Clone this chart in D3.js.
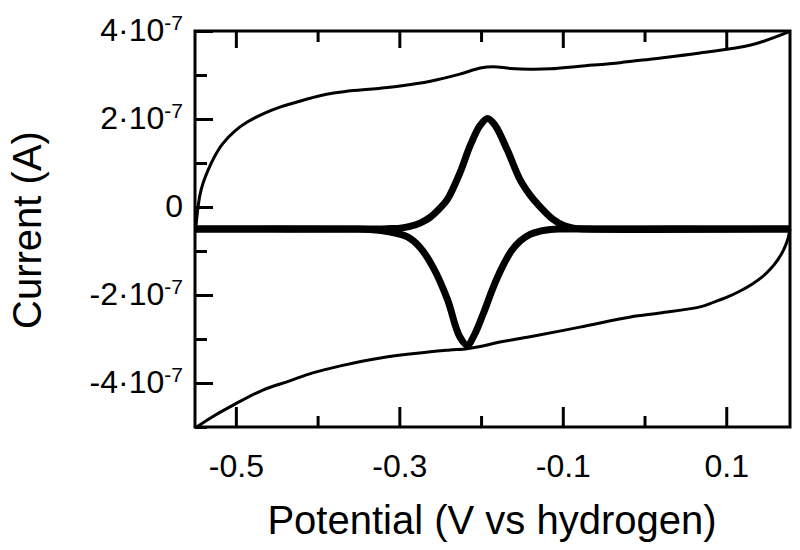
<!DOCTYPE html>
<html lang="en">

<head>
    <script src='https://d3js.org/d3.v7.min.js'></script>
    <style>
        body { margin: 0; background: #fff; }
        text { font-family: "Liberation Sans", Arial, Helvetica, sans-serif; fill: #000; }
    </style>
</head>

<body>
    <script>
        // current values are in units of 1e-7 A
        const potentialTicks = [-0.5, -0.4, -0.3, -0.2, -0.1, 0.0, 0.1]
        const potentialLabels = [-0.5, -0.3, -0.1, 0.1]
        const currentTicks = [-5, -4, -3, -2, -1, 0, 1, 2, 3, 4]
        const currentLabels = [-4, -2, 0, 2, 4]

        // background (capacitive) scan, thin line
        const bgForwardV = [-0.549, -0.547, -0.544, -0.540, -0.534, -0.526, -0.516, -0.501, -0.486, -0.464, -0.446, -0.421, -0.397, -0.360, -0.323, -0.299, -0.262, -0.226, -0.201, -0.185, -0.164, -0.140, -0.115, -0.079, -0.030, 0.007, 0.068, 0.130, 0.178]
        const bgForwardI = [-0.48, -0.11, 0.27, 0.55, 0.84, 1.15, 1.44, 1.73, 1.93, 2.14, 2.27, 2.41, 2.53, 2.64, 2.70, 2.75, 2.86, 3.02, 3.16, 3.19, 3.15, 3.13, 3.14, 3.20, 3.28, 3.36, 3.50, 3.68, 3.99]
        const bgReverseV = [0.178, 0.175, 0.170, 0.163, 0.154, 0.144, 0.132, 0.117, 0.101, 0.085, 0.068, 0.019, -0.017, -0.079, -0.140, -0.177, -0.201, -0.217, -0.238, -0.262, -0.323, -0.372, -0.406, -0.434, -0.467, -0.501, -0.528, -0.548]
        const bgReverseI = [-0.50, -0.75, -0.98, -1.20, -1.41, -1.59, -1.75, -1.91, -2.05, -2.16, -2.27, -2.41, -2.50, -2.73, -2.95, -3.07, -3.17, -3.22, -3.25, -3.29, -3.43, -3.61, -3.77, -3.95, -4.16, -4.48, -4.76, -5.00]

        // background-subtracted redox peaks, thick line
        const peakForwardV = [-0.550, -0.330, -0.311, -0.299, -0.287, -0.274, -0.262, -0.250, -0.241, -0.226, -0.213, -0.201, -0.192, -0.183, -0.168, -0.152, -0.140, -0.131, -0.112, -0.099, -0.087, -0.072, 0.178]
        const peakForwardI = [-0.50, -0.50, -0.49, -0.48, -0.44, -0.36, -0.23, -0.02, 0.18, 0.77, 1.41, 1.86, 2.01, 1.86, 1.30, 0.61, 0.27, 0.07, -0.28, -0.42, -0.48, -0.50, -0.50]
        const peakReverseV = [0.178, -0.100, -0.115, -0.128, -0.140, -0.152, -0.163, -0.175, -0.185, -0.197, -0.208, -0.217, -0.226, -0.231, -0.241, -0.259, -0.275, -0.290, -0.311, -0.336, -0.360, -0.550]
        const peakReverseI = [-0.50, -0.50, -0.51, -0.55, -0.62, -0.77, -1.00, -1.40, -1.82, -2.41, -2.90, -3.14, -2.95, -2.72, -2.11, -1.36, -0.91, -0.68, -0.57, -0.51, -0.50, -0.50]

        const svg = d3.select("body")
            .append("svg")
            .attr("width", 800)
            .attr("height", 550)

        var xScale = d3.scaleLinear()
            .domain([-0.55, 0.178])
            .range([195, 790])
        var yScale = d3.scaleLinear()
            .domain([-5, 4])
            .range([427, 31])

        const isMajorX = d => potentialLabels.some(v => Math.abs(v - d) < 1e-6)
        const isMajorY = d => currentLabels.includes(d)

        // bottom axis
        const xAxis = svg.append("g")
            .attr("transform", "translate(0,427)")
            .call(d3.axisBottom(xScale)
                .tickValues(potentialTicks)
                .tickSize(0)
                .tickPadding(27)
                .tickFormat(d => isMajorX(d) ? d.toFixed(1) : ""))
        xAxis.select(".domain").remove()
        xAxis.selectAll(".tick line")
            .attr("y2", d => isMajorX(d) ? -20 : -11)
            .attr("stroke", "#000")
            .attr("stroke-width", 3)
        xAxis.selectAll(".tick text")
            .style("font-size", "32px")
            .attr("fill", "#000")

        // top axis, ticks only
        const topAxis = svg.append("g")
            .attr("transform", "translate(0,31)")
            .call(d3.axisTop(xScale).tickValues(potentialTicks).tickSize(0).tickFormat(""))
        topAxis.select(".domain").remove()
        topAxis.selectAll(".tick line")
            .attr("y2", d => isMajorX(d) ? 17 : 11)
            .attr("stroke", "#000")
            .attr("stroke-width", 3)

        // left axis
        const yAxis = svg.append("g")
            .attr("transform", "translate(195,0)")
            .call(d3.axisLeft(yScale).tickValues(currentTicks).tickSize(0).tickFormat(""))
        yAxis.select(".domain").remove()
        yAxis.selectAll(".tick line")
            .attr("x2", d => isMajorY(d) ? 18 : 12)
            .attr("stroke", "#000")
            .attr("stroke-width", 3)
        yAxis.selectAll(".tick")
            .filter(d => isMajorY(d))
            .append("text")
            .attr("x", -12)
            .attr("dy", "0.3em")
            .attr("text-anchor", "end")
            .style("font-size", "32px")
            .each(function(d) {
                const t = d3.select(this)
                if (d === 0) {
                    t.text("0")
                    return
                }
                t.append("tspan").text((d < 0 ? "-" : "") + Math.abs(d) + "\u00b710")
                t.append("tspan")
                    .attr("dy", "-0.55em")
                    .style("font-size", "21px")
                    .text("-7")
            })

        // frame
        svg.append("rect")
            .attr("x", xScale.range()[0])
            .attr("y", yScale.range()[1])
            .attr("width", xScale.range()[1] - xScale.range()[0])
            .attr("height", yScale.range()[0] - yScale.range()[1])
            .attr("fill", "none")
            .attr("stroke", "#000")
            .attr("stroke-width", 3)

        const line = d3.line()
            .x(d => xScale(d[0]))
            .y(d => yScale(d[1]))
            .curve(d3.curveCatmullRom.alpha(0.5))

        const bg = [d3.zip(bgForwardV, bgForwardI), d3.zip(bgReverseV, bgReverseI)]
        svg.append("g")
            .selectAll("path")
            .data(bg)
            .enter()
            .append("path")
            .attr("fill", "none")
            .attr("stroke", "#000")
            .attr("stroke-width", 3)
            .attr("d", line)

        const peaks = [d3.zip(peakForwardV, peakForwardI), d3.zip(peakReverseV, peakReverseI)]
        svg.append("g")
            .selectAll("path")
            .data(peaks)
            .enter()
            .append("path")
            .attr("fill", "none")
            .attr("stroke", "#000")
            .attr("stroke-width", 7)
            .attr("stroke-linejoin", "round")
            .attr("d", line)

        // axis titles
        svg.append("text")
            .attr("x", 492)
            .attr("y", 534)
            .attr("text-anchor", "middle")
            .style("font-size", "40px")
            .text("Potential (V vs hydrogen)")

        svg.append("text")
            .attr("transform", "translate(41,230) rotate(-90)")
            .attr("text-anchor", "middle")
            .style("font-size", "40px")
            .text("Current (A)")
    </script>
</body>

</html>
